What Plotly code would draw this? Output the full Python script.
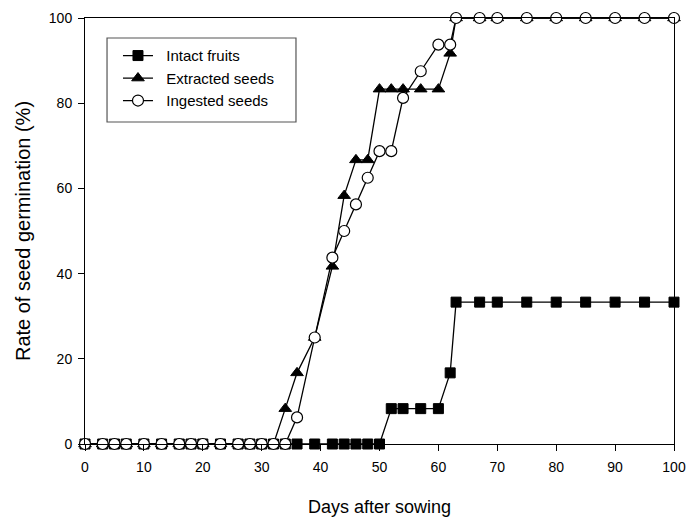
import plotly.graph_objects as go

days = [0, 3, 5, 7, 10, 13, 16, 18, 20, 23, 26, 28, 30, 32, 34, 36, 39, 42, 44, 46,
        48, 50, 52, 54, 57, 60, 62, 63, 67, 70, 75, 80, 85, 90, 95, 100]

intact = [0]*22 + [8.3, 8.3, 8.3, 8.3, 16.7, 33.3, 33.3, 33.3, 33.3, 33.3, 33.3, 33.3, 33.3, 33.3]
extracted = [0]*14 + [8.3, 16.7, 25, 41.7, 58.3, 66.7, 66.7, 83.3, 83.3, 83.3, 83.3, 83.3, 91.7,
                      100, 100, 100, 100, 100, 100, 100, 100, 100]
ingested = [0]*15 + [6.25, 25, 43.75, 50, 56.25, 62.5, 68.75, 68.75, 81.25, 87.5, 93.75, 93.75,
                     100, 100, 100, 100, 100, 100, 100, 100, 100]

x_ticks = [0, 10, 20, 30, 40, 50, 60, 70, 80, 90, 100]
y_ticks = [0, 20, 40, 60, 80, 100]

NB = "\u00a0\u00a0"
font = "Liberation Sans, Arial, sans-serif"
fig = go.Figure()
fig.add_trace(go.Scatter(x=days, y=intact, name=NB + "Intact fruits", mode="lines+markers",
                         line=dict(color="black", width=1.3),
                         marker=dict(symbol="square", size=10, color="black",
                                     line=dict(color="black", width=1)),
                         cliponaxis=False))
fig.add_trace(go.Scatter(x=days, y=extracted, name=NB + "Extracted seeds", mode="lines+markers",
                         line=dict(color="black", width=1.3),
                         marker=dict(symbol="triangle-up", size=11, color="black",
                                     line=dict(color="black", width=1)),
                         cliponaxis=False))
fig.add_trace(go.Scatter(x=days, y=ingested, name=NB + "Ingested seeds", mode="lines+markers",
                         line=dict(color="black", width=1.3),
                         marker=dict(symbol="circle", size=11, color="white",
                                     line=dict(color="black", width=1.2)),
                         cliponaxis=False))

# legend frame
fig.add_shape(type="rect", xref="paper", yref="paper",
              x0=0.0374, x1=0.3582, y0=0.7559, y1=0.9531,
              line=dict(color="#555555", width=1.2), fillcolor="rgba(0,0,0,0)", layer="below")

fig.update_layout(
    width=689, height=518,
    margin=dict(l=85, r=15, t=18, b=74, autoexpand=False),
    paper_bgcolor="white", plot_bgcolor="white",
    font=dict(family=font, size=14, color="black"),
    showlegend=True,
    legend=dict(x=0.056, y=0.950, xanchor="left", yanchor="top",
                borderwidth=0, bgcolor="rgba(0,0,0,0)",
                font=dict(size=15), tracegroupgap=0),
    xaxis=dict(range=[0, 100], tickvals=x_ticks, ticks="outside", ticklen=6,
               tickcolor="black", showline=True, linecolor="black", linewidth=1,
               mirror=True, showgrid=False, zeroline=False, automargin=False,
               tickfont=dict(size=14), ticklabelstandoff=4,
               title=dict(text="Days after sowing", font=dict(size=18), standoff=26)),
    yaxis=dict(range=[0, 100], tickvals=y_ticks, ticks="outside", ticklen=6,
               tickcolor="black", showline=True, linecolor="black", linewidth=1,
               mirror=True, showgrid=False, zeroline=False, automargin=False,
               tickfont=dict(size=14), ticklabelstandoff=3,
               title=dict(text="Rate of seed germination (%)", font=dict(size=20), standoff=12)),
)

fig.write_html("out.html", config={"displayModeBar": False},
               post_script="document.body.style.margin='0';")
